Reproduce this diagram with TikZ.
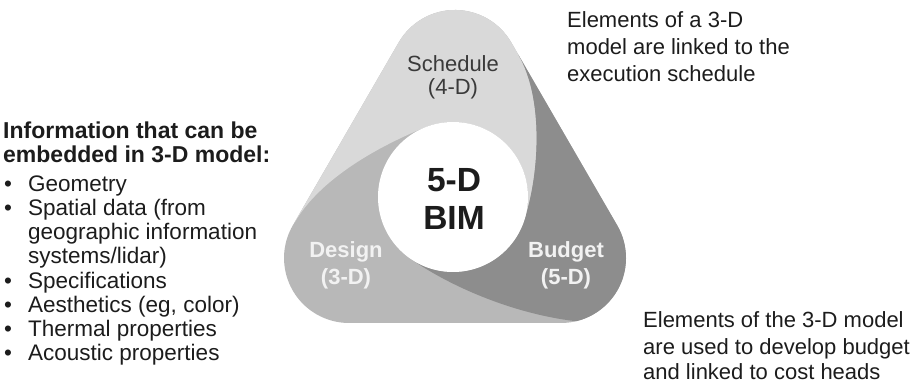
\documentclass[tikz,border=0pt]{standalone}
\usepackage{fontspec}
\setmainfont{Liberation Sans}
\definecolor{lightg}{RGB}{217,217,217}
\definecolor{midg}{RGB}{184,184,184}
\definecolor{darkg}{RGB}{141,141,141}
\definecolor{txt}{RGB}{28,28,28}
\definecolor{schedtxt}{RGB}{58,58,58}
\definecolor{segtxt}{RGB}{242,242,242}
\begin{document}
\begin{tikzpicture}[x=1pt,y=1pt,
  body/.style={font=\fontsize{22}{26}\selectfont, text=txt, inner sep=0pt, anchor=base west},
  listtxt/.style={font=\fontsize{22.5}{26}\selectfont, text=txt, inner sep=0pt, anchor=base west},
  headline/.style={font=\fontsize{23}{26}\selectfont\bfseries, text=txt, inner sep=0pt, anchor=base west},
  schedlabel/.style={font=\fontsize{22}{26}\selectfont, text=schedtxt, inner sep=0pt, anchor=base},
  seglabel/.style={font=\fontsize{22}{26}\selectfont\bfseries, text=segtxt, inner sep=0pt, anchor=base},
  core/.style={circle, fill=white, minimum size=150pt, inner sep=0pt},
  coretext/.style={font=\fontsize{33.5}{38}\selectfont\bfseries, text=txt, align=center, inner sep=0pt}
]
\useasboundingbox (0,0) rectangle (921,385);

% outer rounded triangle (Design colour as base)
\fill[midg] (511.2,342.6) arc[start angle=30.1,end angle=149.9,radius=65pt]
  -- (292.8,159.6) arc[start angle=149.9,end angle=270,radius=65pt]
  -- (561,62) arc[start angle=270,end angle=390.1,radius=65pt] -- cycle;

\begin{scope}
\clip (511.2,342.6) arc[start angle=30.1,end angle=149.9,radius=65pt]
  -- (292.8,159.6) arc[start angle=149.9,end angle=270,radius=65pt]
  -- (561,62) arc[start angle=270,end angle=390.1,radius=65pt] -- cycle;
% Schedule (light) segment
\fill[lightg] (424.9,257.5) .. controls (378.6,238.8) and (320,206.25) .. (295,163)
  -- (150,163) -- (150,450) -- (650,450) -- (650,340) -- (518.5,330)
  .. controls (543.5,286.75) and (539.8,212.4) .. (524.3,164.8)
  arc[start angle=-18,end angle=112,radius=75pt] -- cycle;
% Budget (dark) segment
\fill[darkg] (524.3,164.8) .. controls (539.8,212.4) and (543.5,286.75) .. (518.5,330)
  -- (650,340) -- (750,340) -- (750,-20) -- (600,-20) -- (600,62)
  .. controls (530,64) and (455,95) .. (410,126.6)
  arc[start angle=235,end angle=342,radius=75pt] -- cycle;
\end{scope}

% central circle
\node[core] (bim) at (453,188) {};
\node[coretext] (bimtext) at (454,185.8) {5-D\\BIM};

% segment labels
\node[schedlabel] (sched1) at (453,313) {Schedule};
\node[schedlabel] (sched2) at (453,290) {(4-D)};
\node[seglabel] (design1) at (346,127) {Design};
\node[seglabel] (design2) at (346,100) {(3-D)};
\node[seglabel] (budget1) at (566,127) {Budget};
\node[seglabel] (budget2) at (566,100) {(5-D)};

% right texts
\node[body] (sa) at (567,357) {Elements of a 3-D};
\node[body] (sb) at (567,330) {model are linked to the};
\node[body] (sc) at (567,303) {execution schedule};
\node[body] (ba) at (643,57) {Elements of the 3-D model};
\node[body] (bb) at (643,30) {are used to develop budget};
\node[body] (bc) at (643,5) {and linked to cost heads};

% left list
\node[headline] (h1) at (3,246.7) {Information that can be};
\node[headline] (h2) at (3,222.7) {embedded in 3-D model:};
\node[listtxt] (i1) at (4,193.3) {\makebox[24pt][l]{\textbullet}Geometry};
\node[listtxt] (i2) at (4,169) {\makebox[24pt][l]{\textbullet}Spatial data (from};
\node[listtxt] (i2b) at (28,145) {geographic information};
\node[listtxt] (i2c) at (28,121.7) {systems/lidar)};
\node[listtxt] (i3) at (4,96.7) {\makebox[24pt][l]{\textbullet}Specifications};
\node[listtxt] (i4) at (4,72.3) {\makebox[24pt][l]{\textbullet}Aesthetics (eg, color)};
\node[listtxt] (i5) at (4,48.3) {\makebox[24pt][l]{\textbullet}Thermal properties};
\node[listtxt] (i6) at (4,24.3) {\makebox[24pt][l]{\textbullet}Acoustic properties};
\end{tikzpicture}
\end{document}
